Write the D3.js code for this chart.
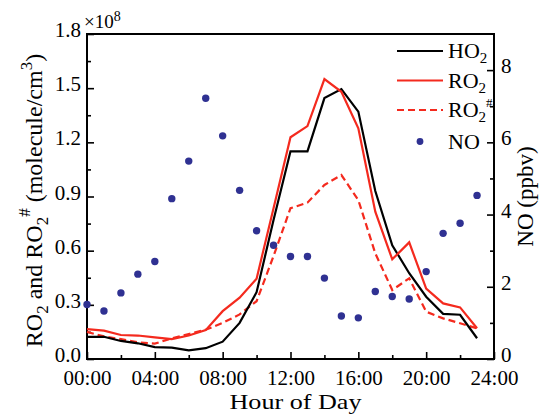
<!DOCTYPE html>
<html>
<head>
<meta charset="utf-8">
<script src="https://cdn.jsdelivr.net/npm/d3@7/dist/d3.min.js"></script>
<style>
    body { margin: 0; background: #fff; }
    text { font-family: "Liberation Serif", "Times New Roman", serif; fill: #000; }
</style>
</head>
<body>
<div id="chart"></div>
<script>

// hour of day
const hours = [0, 1, 2, 3, 4, 5, 6, 7, 8, 9, 10, 11, 12, 13, 14, 15, 16, 17, 18, 19, 20, 21, 22, 23];

// radicals, in 1e8 molecule/cm3
const ho2 = [0.123, 0.123, 0.100, 0.087, 0.066, 0.063, 0.048, 0.060, 0.096, 0.200, 0.370, 0.770,
             1.150, 1.150, 1.445, 1.495, 1.370, 0.930, 0.630, 0.475, 0.345, 0.250, 0.245, 0.115];
const ro2 = [0.165, 0.157, 0.133, 0.130, 0.120, 0.110, 0.130, 0.160, 0.265, 0.340, 0.445, 0.835,
             1.228, 1.290, 1.550, 1.480, 1.278, 0.816, 0.552, 0.646, 0.390, 0.308, 0.286, 0.170];
const ro2h = [0.150, 0.125, 0.110, 0.092, 0.085, 0.115, 0.138, 0.162, 0.200, 0.247, 0.320, 0.570,
              0.835, 0.866, 0.964, 1.019, 0.880, 0.585, 0.382, 0.447, 0.262, 0.225, 0.198, 0.170];

// NO in ppbv (right axis)
const no = [1.51, 1.33, 1.83, 2.35, 2.70, 4.44, 5.48, 7.22, 6.18, 4.67, 3.55, 3.15,
            2.84, 2.84, 2.24, 1.19, 1.14, 1.87, 1.73, 1.66, 2.42, 3.48, 3.76, 4.53];

// axis ticks
const xTicks = [0, 4, 8, 12, 16, 20, 24];
const xMinor = [2, 6, 10, 14, 18, 22];
const xLabels = ["00:00", "04:00", "08:00", "12:00", "16:00", "20:00", "24:00"];
const yTicks = [0, 0.3, 0.6, 0.9, 1.2, 1.5, 1.8];
const yMinor = [0.15, 0.45, 0.75, 1.05, 1.35, 1.65];
const y2Ticks = [0, 2, 4, 6, 8];
const y2Minor = [1, 3, 5, 7];

const red = "#f42a1e", blue = "#2f3192";

const W = 539, H = 414;
const margin = {top: 34, right: 45, bottom: 55, left: 87};
const width = W - margin.left - margin.right;
const height = H - margin.top - margin.bottom;

const svg = d3.select("#chart").append("svg")
    .attr("width", W)
    .attr("height", H);

const g = svg.append("g")
    .attr("transform", `translate(${margin.left},${margin.top})`);

// scales
const x = d3.scaleLinear().domain([0, 24]).range([0, width]);
const y = d3.scaleLinear().domain([0, 1.8]).range([height, 0]);
const y2 = d3.scaleLinear().domain([0, 9]).range([height, 0]);

// axes (ticks pointing inward)
const fontSize = 21;

g.append("g")
    .attr("transform", `translate(0,${height})`)
    .call(d3.axisBottom(x).tickValues(xTicks).tickSizeInner(-7).tickSizeOuter(0)
        .tickPadding(11).tickFormat((d, i) => xLabels[i]))
    .call(a => a.select(".domain").remove())
    .call(a => a.selectAll("text").attr("font-size", fontSize).attr("dy", "0.71em"));
g.append("g")
    .attr("transform", `translate(0,${height})`)
    .call(d3.axisBottom(x).tickValues(xMinor).tickSizeInner(-4).tickSizeOuter(0).tickFormat(""))
    .call(a => a.select(".domain").remove());

g.append("g")
    .call(d3.axisLeft(y).tickValues(yTicks).tickSizeInner(-7).tickSizeOuter(0)
        .tickPadding(6).tickFormat(d3.format(".1f")))
    .call(a => a.select(".domain").remove())
    .call(a => a.selectAll("text").attr("font-size", fontSize).attr("dy", "0.12em"));
g.append("g")
    .call(d3.axisLeft(y).tickValues(yMinor).tickSizeInner(-4).tickSizeOuter(0).tickFormat(""))
    .call(a => a.select(".domain").remove());

g.append("g")
    .attr("transform", `translate(${width},0)`)
    .call(d3.axisRight(y2).tickValues(y2Ticks).tickSizeInner(-7).tickSizeOuter(0)
        .tickPadding(7).tickFormat(d3.format("d")))
    .call(a => a.select(".domain").remove())
    .call(a => a.selectAll("text").attr("font-size", fontSize).attr("dy", "0.12em"));
g.append("g")
    .attr("transform", `translate(${width},0)`)
    .call(d3.axisRight(y2).tickValues(y2Minor).tickSizeInner(-4).tickSizeOuter(0).tickFormat(""))
    .call(a => a.select(".domain").remove());

g.selectAll(".tick line").attr("stroke", "#000").attr("stroke-width", 1.6);

// frame
g.append("rect")
    .attr("width", width)
    .attr("height", height)
    .attr("fill", "none")
    .attr("stroke", "#000")
    .attr("stroke-width", 2);

// lines
const line = d3.line()
    .x((d, i) => x(hours[i]))
    .y(d => y(d));

g.append("path").datum(ro2h)
    .attr("fill", "none").attr("stroke", red).attr("stroke-width", 2.2)
    .attr("stroke-dasharray", "7,4")
    .attr("d", line);
g.append("path").datum(ho2)
    .attr("fill", "none").attr("stroke", "#000").attr("stroke-width", 2.2)
    .attr("d", line);
g.append("path").datum(ro2)
    .attr("fill", "none").attr("stroke", red).attr("stroke-width", 2.2)
    .attr("d", line);

// NO dots
g.selectAll(".no-dot")
    .data(no)
    .enter().append("circle")
    .attr("class", "no-dot")
    .attr("cx", (d, i) => x(hours[i]))
    .attr("cy", d => y2(d))
    .attr("r", 3.7)
    .attr("fill", blue);

// multiplier
const mult = svg.append("text")
    .attr("x", margin.left - 3)
    .attr("y", 28)
    .attr("font-size", 19);
mult.append("tspan").text("×10");
mult.append("tspan").attr("dy", -7).attr("font-size", 14).text("8");

// axis titles
svg.append("text")
    .attr("x", margin.left + width / 2 + 5)
    .attr("y", 409)
    .attr("text-anchor", "middle")
    .attr("font-size", 22)
    .attr("textLength", 132)
    .attr("lengthAdjust", "spacingAndGlyphs")
    .text("Hour of Day");

const yl = svg.append("text")
    .attr("transform", `translate(42,${margin.top + height / 2 + 4}) rotate(-90)`)
    .attr("text-anchor", "middle")
    .attr("font-size", 24);
yl.append("tspan").text("RO");
yl.append("tspan").attr("dy", 6).attr("font-size", 17).text("2");
yl.append("tspan").attr("dy", -6).text(" and RO");
yl.append("tspan").attr("dy", 6).attr("font-size", 17).text("2");
yl.append("tspan").attr("dy", -18).attr("font-size", 17).text("#");
yl.append("tspan").attr("dy", 12).text(" (molecule/cm");
yl.append("tspan").attr("dy", -10).attr("font-size", 17).text("3");
yl.append("tspan").attr("dy", 10).text(")");

svg.append("text")
    .attr("transform", `translate(533,${margin.top + height / 2}) rotate(-90)`)
    .attr("text-anchor", "middle")
    .attr("font-size", 23)
    .text("NO (ppbv)");

// legend
const legend = svg.append("g").attr("transform", "translate(397,51)");
const rowH = 29.5;
const items = [
    {name: "HO", sub: "2", sup: "", color: "#000", dash: null, type: "line"},
    {name: "RO", sub: "2", sup: "", color: red, dash: null, type: "line"},
    {name: "RO", sub: "2", sup: "#", color: red, dash: "7,4", type: "line"},
    {name: "NO", sub: "", sup: "", color: blue, dash: null, type: "dot"}
];

items.forEach(function (d, i) {
    let row = legend.append("g").attr("transform", `translate(0,${i * rowH + (i === 3 ? 2 : 0)})`);
    if (d.type === "line") {
        row.append("line")
            .attr("x1", 0).attr("x2", 46)
            .attr("stroke", d.color).attr("stroke-width", 2.2)
            .attr("stroke-dasharray", d.dash);
    } else {
        row.append("circle").attr("cx", 23).attr("r", 3.4).attr("fill", d.color);
    }
    let t = row.append("text")
        .attr("x", 51)
        .attr("y", 7)
        .attr("font-size", 22);
    t.append("tspan").text(d.name);
    if (d.sub) t.append("tspan").attr("dy", 5).attr("font-size", 15).text(d.sub);
    if (d.sup) t.append("tspan").attr("dy", -15).attr("font-size", 13).text(d.sup);
});

</script>
</body>
</html>
